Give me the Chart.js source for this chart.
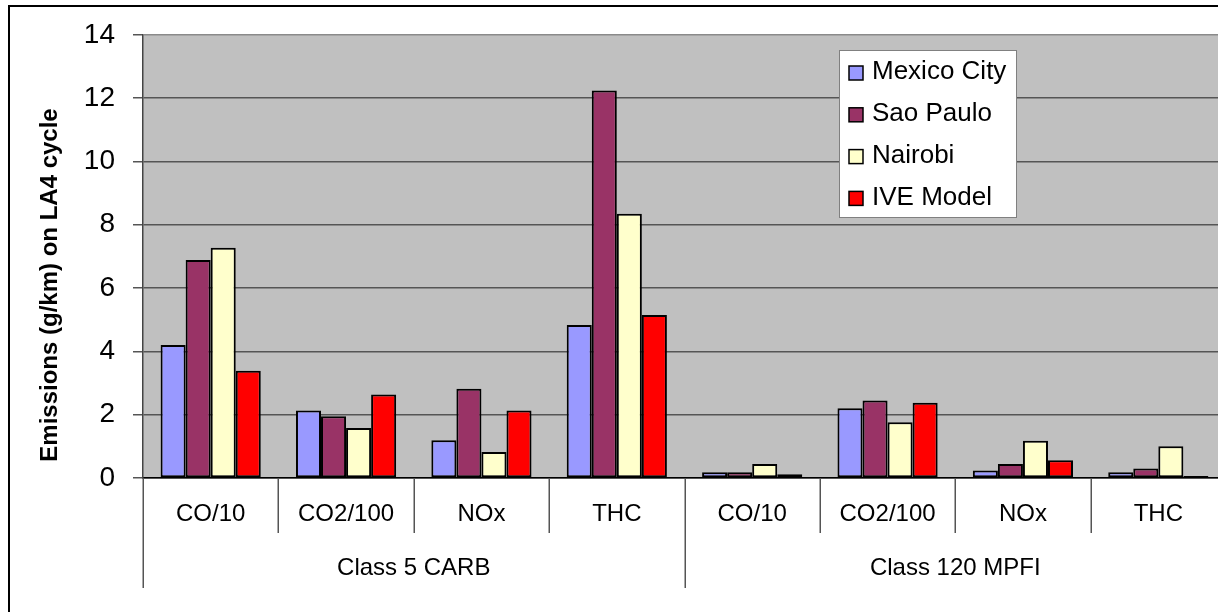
<!DOCTYPE html>
<html>
<head>
<meta charset="utf-8">
<title>Emissions on LA4 cycle</title>
<script src="https://cdn.jsdelivr.net/npm/chart.js@4.4.0/dist/chart.umd.min.js"></script>
<style>
  html, body { margin: 0; padding: 0; background: #fff; overflow: hidden; }
  body { width: 1218px; height: 612px; position: relative; }
  #frame {
    position: absolute; left: 8px; top: 5px;
    width: 1240px; height: 620px;
    border: 2px solid #000; box-sizing: border-box;
  }
  #chart { position: absolute; left: 0; top: 0; }
</style>
</head>
<body>
<div id="frame"></div>
<canvas id="chart" width="1240" height="612"></canvas>
<script>
// ---- data ----
const pollutants     = ['CO/10', 'CO2/100', 'NOx', 'THC'];
const vehicleClasses = ['Class 5 CARB', 'Class 120 MPFI'];
const yTicks         = [0, 2, 4, 6, 8, 10, 12, 14];

const mexicoCity = [4.20, 2.13, 1.19, 4.83, 0.18, 2.20, 0.24, 0.18];
const saoPaulo   = [6.89, 1.95, 2.82, 12.24, 0.18, 2.45, 0.44, 0.30];
const nairobi    = [7.27, 1.58, 0.82, 8.35, 0.44, 1.76, 1.18, 1.00];
const iveModel   = [3.39, 2.64, 2.13, 5.15, 0.12, 2.38, 0.56, 0.06];

const seriesNames  = ['Mexico City', 'Sao Paulo', 'Nairobi', 'IVE Model'];
const seriesColors = ['#9999ff', '#993366', '#ffffcc', '#ff0000'];

const yTitle = 'Emissions (g/km) on LA4 cycle';
const FONT = '"Liberation Sans", Arial, sans-serif';

// one category per pollutant per vehicle class
const categories = [];
vehicleClasses.forEach(() => pollutants.forEach(p => categories.push(p)));

// grey plot background
const plotBackground = {
  id: 'plotBackground',
  beforeDraw(chart) {
    const { ctx, chartArea: a } = chart;
    ctx.save();
    ctx.fillStyle = '#c0c0c0';
    ctx.fillRect(a.left, a.top, a.right - a.left, a.bottom - a.top);
    ctx.restore();
  }
};

// two-level category axis: pollutant row + vehicle class row
const groupedAxis = {
  id: 'groupedAxis',
  afterDraw(chart) {
    const { ctx, chartArea: a } = chart;
    const xs = chart.scales.x;
    const n = categories.length;
    const w = (a.right - a.left) / n;
    ctx.save();
    ctx.strokeStyle = '#555';
    ctx.lineWidth = 1.5;
    for (let i = 0; i <= n; i++) {
      const bx = Math.round(a.left + i * w) + 0.25;
      const len = i % pollutants.length === 0 ? 110 : 55;
      ctx.beginPath();
      ctx.moveTo(bx, a.bottom);
      ctx.lineTo(bx, a.bottom + len);
      ctx.stroke();
    }
    ctx.fillStyle = '#000';
    ctx.textAlign = 'center';
    ctx.textBaseline = 'middle';
    ctx.font = '24px ' + FONT;
    categories.forEach((c, i) => ctx.fillText(c, xs.getPixelForValue(i), a.bottom + 36));
    vehicleClasses.forEach((g, gi) => {
      const cx = a.left + (gi * pollutants.length + pollutants.length / 2) * w;
      ctx.fillText(g, cx, a.bottom + 90);
    });
    ctx.restore();
  }
};

// rotated y-axis title
const yAxisTitle = {
  id: 'yAxisTitle',
  afterDraw(chart) {
    const { ctx } = chart;
    ctx.save();
    ctx.translate(50, 285);
    ctx.rotate(-Math.PI / 2);
    ctx.fillStyle = '#000';
    ctx.font = 'bold 24px ' + FONT;
    ctx.textAlign = 'center';
    ctx.textBaseline = 'middle';
    ctx.fillText(yTitle, 0, 0);
    ctx.restore();
  }
};

// boxed legend floating inside the plot
const boxLegend = {
  id: 'boxLegend',
  afterDraw(chart) {
    const { ctx } = chart;
    const bx = 839.5, by = 50.5, bw = 177, bh = 167;
    ctx.save();
    ctx.fillStyle = '#fff';
    ctx.fillRect(bx, by, bw, bh);
    ctx.strokeStyle = '#808080';
    ctx.lineWidth = 1;
    ctx.strokeRect(bx, by, bw, bh);
    ctx.font = '26px ' + FONT;
    ctx.textBaseline = 'middle';
    ctx.textAlign = 'left';
    chart.data.datasets.forEach((ds, i) => {
      const cy = 73 + i * 41.8;
      ctx.fillStyle = ds.backgroundColor;
      ctx.fillRect(849, cy - 7, 14, 14);
      ctx.strokeStyle = '#000';
      ctx.lineWidth = 1.5;
      ctx.strokeRect(849, cy - 7, 14, 14);
      ctx.fillStyle = '#000';
      ctx.fillText(ds.label, 872, cy - 1);
    });
    ctx.restore();
  }
};

const seriesData = [mexicoCity, saoPaulo, nairobi, iveModel];

new Chart(document.getElementById('chart'), {
  type: 'bar',
  data: {
    labels: categories,
    datasets: seriesNames.map((name, i) => ({
      label: name,
      data: seriesData[i],
      backgroundColor: seriesColors[i],
      borderColor: '#000',
      borderWidth: 2,
      borderSkipped: false,
      categoryPercentage: 0.74,
      barPercentage: 1.0,
    }))
  },
  options: {
    responsive: false,
    animation: false,
    layout: { padding: { left: 0, top: 32, right: 14, bottom: 0 } },
    plugins: {
      legend: { display: false },
      tooltip: { enabled: false },
      title: { display: false },
    },
    scales: {
      x: {
        type: 'category',
        offset: true,
        grid: { display: false },
        ticks: { display: false },
        border: { display: true, color: '#000', width: 1.5 },
        afterFit: s => { s.height = 134; },
      },
      y: {
        min: 0,
        max: 14,
        afterBuildTicks: s => { s.ticks = yTicks.map(v => ({ value: v })); },
        ticks: {
          color: '#000',
          font: { family: FONT, size: 28 },
          padding: 18,
        },
        grid: {
          color: c => (c.tick && c.tick.value === 14 ? '#8a8a8a' : '#555'),
          lineWidth: 1.5,
          tickLength: 10,
          tickColor: '#555',
          drawTicks: true,
        },
        border: { display: true, color: '#444', width: 1.5 },
        afterFit: s => { s.width = 143; },
      }
    }
  },
  plugins: [plotBackground, groupedAxis, yAxisTitle, boxLegend]
});
</script>
</body>
</html>
